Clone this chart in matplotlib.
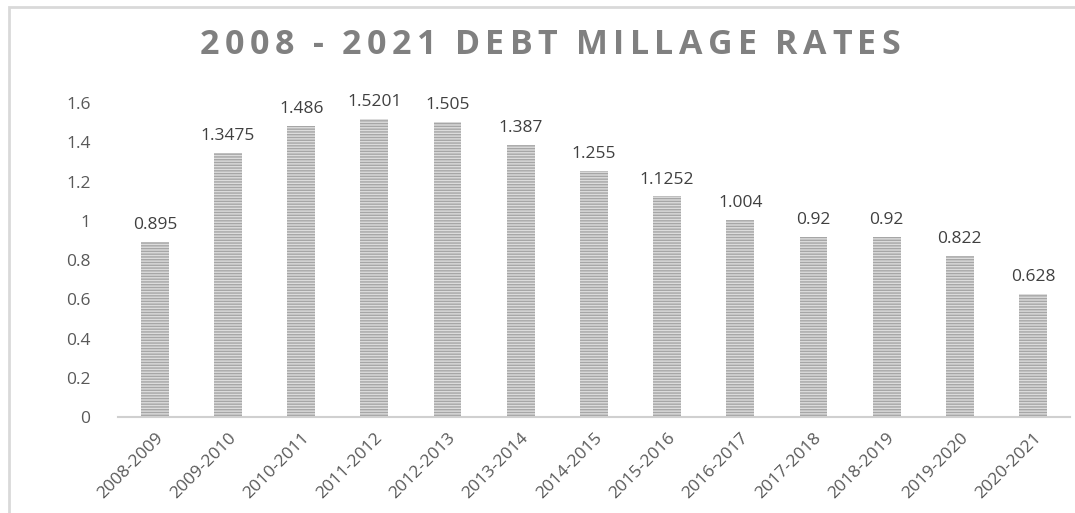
import numpy as np
import matplotlib.pyplot as plt
from matplotlib.patches import Rectangle

years = ["2008-2009", "2009-2010", "2010-2011", "2011-2012", "2012-2013", "2013-2014",
         "2014-2015", "2015-2016", "2016-2017", "2017-2018", "2018-2019", "2019-2020",
         "2020-2021"]
rates = [0.895, 1.3475, 1.486, 1.5201, 1.505, 1.387, 1.255, 1.1252, 1.004, 0.92, 0.92,
         0.822, 0.628]
rate_labels = ["0.895", "1.3475", "1.486", "1.5201", "1.505", "1.387", "1.255", "1.1252",
               "1.004", "0.92", "0.92", "0.822", "0.628"]
yticks = [0, 0.2, 0.4, 0.6, 0.8, 1.0, 1.2, 1.4, 1.6]
ytick_labels = ["0", "0.2", "0.4", "0.6", "0.8", "1", "1.2", "1.4", "1.6"]
title = "2008 - 2021 DEBT MILLAGE RATES"

plt.rcParams["font.family"] = ["Open Sans", "DejaVu Sans"]
plt.rcParams["hatch.linewidth"] = 1.0

fig = plt.figure(figsize=(10.75, 5.13), dpi=100)
ax = fig.add_axes([0.11, 0.187, 0.885, 0.65])

# chart border (top and left visible)
fig.patches.append(Rectangle((9 / 1075, -0.1), 1.2, 1 - 7 / 513 + 0.1,
                             transform=fig.transFigure, fill=False,
                             edgecolor="#d9d9d9", linewidth=2))

x = np.arange(len(years))
bars = ax.bar(x, rates, width=0.38, color="#dcdcdc", edgecolor="#a6a6a6",
              hatch="------", linewidth=0)
for xi, r, lab in zip(x, rates, rate_labels):
    ax.text(xi, r + 0.045, lab, ha="center", va="bottom", fontsize=12.5, color="#404040")

ax.set_xlim(-0.5, len(years) - 0.5)
ax.set_ylim(0, 1.7)
ax.set_yticks(yticks)
ax.set_yticklabels(ytick_labels, fontsize=12.5, color="#595959")
ax.set_xticks(x)
ax.set_xticklabels(years, rotation=45, ha="right", rotation_mode="anchor",
                   fontsize=12.5, color="#595959")
ax.tick_params(length=0, pad=20, axis="y")
ax.tick_params(length=0, pad=9, axis="x")
for s in ["top", "right", "left"]:
    ax.spines[s].set_visible(False)
ax.spines["bottom"].set_color("#d0d0d0")
ax.spines["bottom"].set_linewidth(1.5)

# title with some letter spacing, one character at a time
tsize = 24.5
fig.canvas.draw()
renderer = fig.canvas.get_renderer()
widths = []
for ch in title:
    t = fig.text(0, 0.912, ch if ch != " " else "-", fontsize=tsize, fontweight="bold",
                 color="#808080", va="center")
    widths.append(t.get_window_extent(renderer).width if ch != " " else 8)
    t.remove()
left_px, right_px = 200, 900
spacing = (right_px - left_px - sum(widths)) / (len(title) - 1)
pos = left_px
for ch, w in zip(title, widths):
    if ch != " ":
        fig.text(pos / 1075, 0.912, ch, fontsize=tsize, fontweight="bold",
                 color="#808080", va="center", ha="left")
    pos += w + spacing

fig.savefig("out.png", dpi=100)
